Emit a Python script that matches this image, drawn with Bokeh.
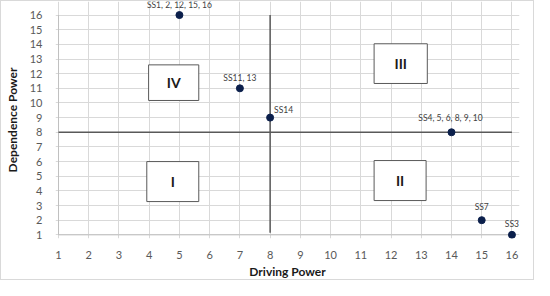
from bokeh.plotting import figure
from bokeh.models import Range1d, ColumnDataSource, FixedTicker, LabelSet
from bokeh.embed import file_html
from bokeh.resources import INLINE
from bokeh.core.properties import value

# data
drv = [5, 7, 8, 14, 15, 16]
dep = [16, 11, 9, 8, 2, 1]
labels = ["SS1, 2, 12, 15, 16", "SS11, 13", "SS14", "SS4, 5, 6, 8, 9, 10", "SS7", "SS3"]
ticks = list(range(1, 17))
quad_names = ["I", "II", "III", "IV"]
box_left = [3.92, 11.44, 11.44, 3.98]
box_right = [5.64, 13.16, 13.2, 5.64]
box_bottom = [3.27, 3.34, 11.33, 10.17]
box_top = [6.0, 6.07, 14.04, 12.6]
split_x = 8
split_y = 8
axis_min, axis_max = 1, 16

FONT = "Lato"
p = figure(width=534, height=280, output_backend="svg", toolbar_location=None,
           x_range=Range1d(0.9, 16.25), y_range=Range1d(0.75, 16.925),
           min_border_left=54, min_border_right=16, min_border_top=0, min_border_bottom=35)
p.styles = {"border": "1px solid #d9d9d9"}
p.outline_line_color = None
p.background_fill_color = "white"

for ax in (p.xaxis, p.yaxis):
    ax.ticker = FixedTicker(ticks=ticks)
    ax.major_tick_line_color = None
    ax.minor_tick_line_color = None
    ax.axis_line_color = None
    ax.major_label_text_color = "#595959"
    ax.major_label_text_font = FONT
    ax.major_label_text_font_size = "11px"
    ax.axis_label_text_font = FONT
    ax.axis_label_text_font_style = "bold"
    ax.axis_label_text_font_size = "12px"
    ax.axis_label_text_color = "#1a1a1a"
p.xaxis.axis_label = "Driving Power"
p.yaxis.axis_label = "Dependence Power"
p.xaxis.major_label_standoff = 6
p.xaxis.axis_label_standoff = 2
p.yaxis.major_label_standoff = 7
p.yaxis.axis_label_standoff = 7

p.xgrid.ticker = FixedTicker(ticks=ticks)
p.ygrid.ticker = FixedTicker(ticks=ticks)
p.xgrid.grid_line_color = "#d9d9d9"
p.ygrid.grid_line_color = "#d9d9d9"

# axis lines at the range minimum
p.segment(x0=[axis_min, axis_min], y0=[axis_min, axis_min], x1=[axis_max, axis_min],
          y1=[axis_min, axis_max], line_color="#bfbfbf", line_width=1)

# quadrant dividers
p.segment(x0=[axis_min], y0=[split_y], x1=[axis_max], y1=[split_y], line_color="#595959", line_width=1.5)
p.segment(x0=[split_x], y0=[1.15], x1=[split_x], y1=[axis_max], line_color="#595959", line_width=1.5)

# boxes
bsrc = ColumnDataSource(dict(l=box_left, r=box_right, b=box_bottom, t=box_top, n=quad_names,
                             cx=[(a + b) / 2 for a, b in zip(box_left, box_right)],
                             cy=[(a + b) / 2 for a, b in zip(box_bottom, box_top)]))
p.quad(left="l", right="r", bottom="b", top="t", source=bsrc, fill_color="white",
       line_color="#595959", line_width=1)
p.text(x="cx", y="cy", text="n", source=bsrc, text_font=value(FONT), text_font_style="bold",
       text_font_size="14px", text_align="center", text_baseline="middle", text_color="#1a1a1a")

# points
src = ColumnDataSource(dict(x=drv, y=dep, t=labels,
                            al=["center", "center", "left", "center", "center", "center"],
                            xo=[0, 0, 4, -1, 0, 0], yo=[7, 7, 5, 11, 10, 8]))
p.scatter(x="x", y="y", source=src, size=7, fill_color="#0b1f4b", line_color="#0b1f4b")
lab = LabelSet(x="x", y="y", text="t", source=src, text_font=value(FONT), text_font_size="8.5px",
               text_align="al", x_offset="xo", y_offset="yo", text_baseline="alphabetic",
               text_color="#404040")
p.add_layout(lab)

open("out.html", "w").write(file_html(p, INLINE))
